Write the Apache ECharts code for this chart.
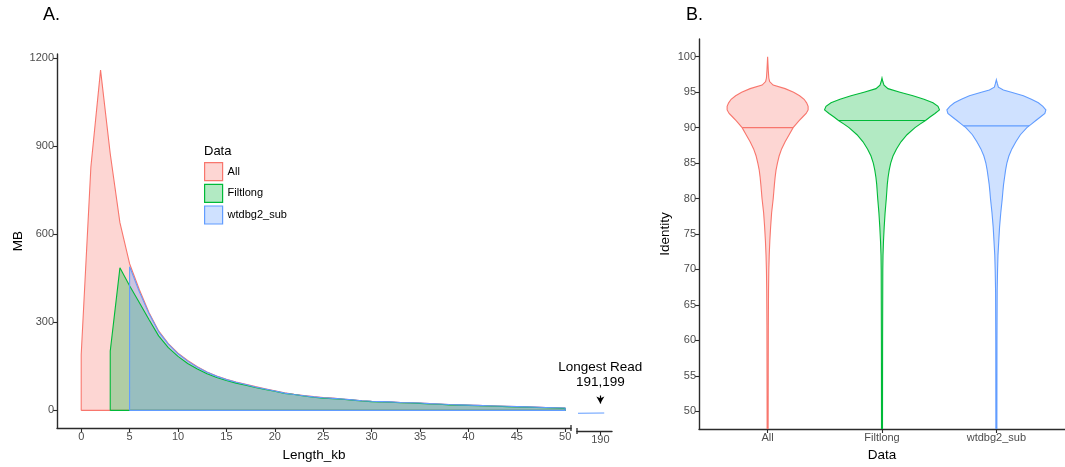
<!DOCTYPE html>
<html><head><meta charset="utf-8">
<script src="https://cdn.jsdelivr.net/npm/echarts@6/dist/echarts.min.js"></script>
<style>html,body{margin:0;padding:0;background:#fff}#c{width:1065px;height:467px}</style>
</head><body><div id="c"></div>
<script>
// ---------------- DATA ----------------
const seriesNames = ['All', 'Filtlong', 'wtdbg2_sub'];
const colors = ['#F8766D', '#00BA38', '#619CFF'];

// Panel A: read-length distribution (MB per 1 kb bin)
const lengthKb = [0,1,2,3,4,5,6,7,8,9,10,11,12,13,14,15,16,17,18,19,20,21,22,23,24,25,26,27,28,29,30,31,32,33,34,35,36,37,38,39,40,41,42,43,44,45,46,47,48,49,50];
const allMB = [190,830,1160,875,640,500,412,334,271,228,195,170,149,131,117,106,97,89,81,74,67,60,55,51,47,44,42,39,36,33,31,30,29,27,26,25,23,22,20,19,18,17,16,15,14,13,12,11,10,9,8];
const filtlongKb = [3,4,5,6,7,8,9,10,11,12,13,14,15,16,17,18,19,20,21,22,23,24,25,26,27,28,29,30,31,32,33,34,35,36,37,38,39,40,41,42,43,44,45,46,47,48,49,50];
const filtlongMB = [202,486,425,368,310,254,214,184,160,141,125,112,102,93,86,78,71,65,58,54,49,45,42,40,38,35,32,30,29,28,26,25,24,22,21,19,18,17,16,15,14,13,12,11,10,9,8,7];
const wtdbgKb = [5,6,7,8,9,10,11,12,13,14,15,16,17,18,19,20,21,22,23,24,25,26,27,28,29,30,31,32,33,34,35,36,37,38,39,40,41,42,43,44,45,46,47,48,49,50];
const wtdbgMB = [490,405,330,268,226,193,168,147,130,116,105,96,88,80,73,66,59,54,50,46,43,41,39,36,33,31,30,29,27,26,25,23,22,20,19,18,17,16,15,14,13,12,11,10,9,8];
const tailKb = [187.7, 190.4];
const tailMB = [1, 1];
const lengthTicks = [0,5,10,15,20,25,30,35,40,45,50];
const tailTicks = [190];
const mbTicks = [0,300,600,900,1200];
const longestReadLabel = ['Longest Read', '191,199'];
const longestReadKb = 190;
const arrowFromMB = 60, arrowToMB = 33;

// Panel B: identity violins (identity levels and half-width densities)
const identityTicks = [50,55,60,65,70,75,80,85,90,95,100];
const allIdentity = [100,98,97,96.5,96,95.5,95,94.5,94,93.5,93,92.5,92,91.5,91,90.5,90,89,88,87,86,85,84,83,82,81,80,78,76,74,72,70,67,62,55,47.5];
const allDensity  = [0,0.7,1.2,2,5.5,17.5,26,32,36.5,39,40.5,40.5,38.5,35,31.5,28.5,25.5,21.5,17.5,14,11.5,9.8,8.4,7.5,6.8,6.2,5.6,4.0,3.0,2.2,1.6,1.2,0.9,0.7,0.6,0.5];
const filtIdentity = [97,96.5,96,95.5,95,94.5,94,93.5,93,92.5,92,91.5,91,90.5,90,89,88,87,86,85,84,83,82,81,80,78,76,74,72,70,60,47.5];
const filtDensity  = [0,0.8,2,6,18,31,42,51,56,57.5,53,48,43.5,38,33,25,19,14.5,11,8.7,7.2,6.1,5.3,4.8,4.3,3.1,2.2,1.5,1,0.8,0.6,0.5];
const wtdbgIdentity = [96.75,96.2,95.7,95.3,95,94.5,94,93.5,93,92.5,92,91.5,91,90.5,90,89,88,87,86,85,84,83,82,81,80,78,76,74,72,70,67,60,47.5];
const wtdbgDensity  = [0,1,2,7,15,27,35,42,46.5,49.5,48.5,44,39.5,35,30.5,24,19.5,15.5,12.5,10.5,9.2,8.2,7.2,6.5,5.9,4.4,3.2,2.4,1.6,1.2,0.8,0.6,0.5];
const identityMedians = [90.0, 91.0, 90.25];

// ---------------- CHART ----------------
const FONT = '"Liberation Sans", Arial, Helvetica, sans-serif';
const DENSITY_TO_CAT = 1 / 114.4;
function rgba(hex, a) {
  const n = parseInt(hex.slice(1), 16);
  return 'rgba(' + (n >> 16) + ',' + ((n >> 8) & 255) + ',' + (n & 255) + ',' + a + ')';
}
const fills = colors.map(c => rgba(c, 0.3));
function closedPoly(xs, ys) {
  const p = xs.map((x, i) => [x, ys[i]]);
  return [[xs[0], 0]].concat(p, [[xs[xs.length - 1], 0], [xs[0], 0]]);
}
const violins = [
  { identity: allIdentity, density: allDensity },
  { identity: filtIdentity, density: filtDensity },
  { identity: wtdbgIdentity, density: wtdbgDensity }
];
function densityAt(v, y) {
  for (let k = 0; k < v.identity.length - 1; k++) {
    const a = v.identity[k], b = v.identity[k + 1];
    if (y <= a && y >= b) {
      const t = (a - y) / (a - b);
      return v.density[k] + t * (v.density[k + 1] - v.density[k]);
    }
  }
  return 0;
}

const axisLineStyle = { color: '#2b2b2b', width: 1.4 };
const tickStyle = { show: true, length: 4, lineStyle: { color: '#2b2b2b', width: 1.1 } };
const labelStyle = { color: '#4D4D4D', fontSize: 11, fontFamily: FONT, margin: 3, formatter: v => String(v) };
const nameStyle = { color: '#000', fontSize: 13.5, fontFamily: FONT };

const areaSeries = [[lengthKb, allMB], [filtlongKb, filtlongMB], [wtdbgKb, wtdbgMB]].map((d, i) => ({
  name: seriesNames[i], type: 'line', xAxisIndex: 0, yAxisIndex: 0,
  symbol: 'none', smooth: false, silent: true,
  lineStyle: { color: colors[i], width: 1.1 },
  itemStyle: { color: colors[i] },
  areaStyle: { color: fills[i], opacity: 1 },
  data: closedPoly(d[0], d[1])
}));

const tailSeries = {
  name: seriesNames[2], type: 'line', xAxisIndex: 1, yAxisIndex: 1,
  symbol: 'none', silent: true,
  lineStyle: { color: colors[2], width: 1.1 },
  itemStyle: { color: colors[2] },
  areaStyle: { color: fills[2], opacity: 1 },
  data: closedPoly(tailKb, tailMB),
  markLine: {
    silent: true, symbol: ['none', 'arrow'], symbolSize: [6, 7],
    lineStyle: { color: '#000', width: 1.2, type: 'solid' },
    label: { show: false },
    data: [[{ coord: [longestReadKb, arrowFromMB] }, { coord: [longestReadKb, arrowToMB] }]]
  }
};

const violinSeries = {
  type: 'custom', xAxisIndex: 2, yAxisIndex: 2, clip: true, silent: true,
  data: identityMedians.map((m, i) => [i + 1, m]),
  renderItem: function (params, api) {
    const i = params.dataIndex, v = violins[i], cx = api.value(0);
    const right = [], left = [];
    v.identity.forEach((y, k) => {
      const hw = v.density[k] * DENSITY_TO_CAT;
      right.push(api.coord([cx + hw, y]));
      left.push(api.coord([cx - hw, y]));
    });
    const pts = right.concat(left.reverse());
    const med = api.value(1);
    const mhw = densityAt(v, med) * DENSITY_TO_CAT;
    const p1 = api.coord([cx - mhw, med]), p2 = api.coord([cx + mhw, med]);
    return {
      type: 'group',
      children: [
        { type: 'polygon', shape: { points: pts }, style: { fill: fills[i], stroke: colors[i], lineWidth: 1.1 } },
        { type: 'line', shape: { x1: p1[0], y1: p1[1], x2: p2[0], y2: p2[1] }, style: { stroke: colors[i], lineWidth: 1.1 } }
      ]
    };
  }
};

const chart = echarts.init(document.getElementById('c'), null, { renderer: 'canvas' });
const option = {
  animation: false,
  backgroundColor: '#fff',
  textStyle: { fontFamily: FONT },
  grid: [
    { left: 57, top: 54, width: 514, height: 377 },
    { left: 577, top: 54, width: 35, height: 377 },
    { left: 699, top: 39, width: 366, height: 397 }
  ],
  legend: {
    orient: 'vertical', left: 204, top: 162, icon: 'rect', padding: 0,
    itemWidth: 18, itemHeight: 18, itemGap: 2.5, selectedMode: false,
    textStyle: { fontSize: 11, color: '#000', fontFamily: FONT },
    data: seriesNames.map((n, i) => ({ name: n, itemStyle: { color: fills[i], borderColor: colors[i], borderWidth: 1.2 } }))
  },
  xAxis: [
    {
      gridIndex: 0, type: 'value', min: -2.5, max: 50.6,
      name: 'Length_kb', nameLocation: 'middle', nameGap: 20, nameTextStyle: nameStyle,
      axisLine: { show: true, lineStyle: axisLineStyle, onZero: false },
      axisTick: Object.assign({ customValues: lengthTicks }, tickStyle),
      axisLabel: Object.assign({ customValues: lengthTicks }, labelStyle),
      splitLine: { show: false }
    },
    {
      gridIndex: 1, type: 'value', min: 187.6, max: 191.2,
      axisLine: { show: true, lineStyle: axisLineStyle, onZero: false },
      axisTick: Object.assign({ customValues: tailTicks }, tickStyle),
      axisLabel: Object.assign({ customValues: tailTicks }, labelStyle),
      splitLine: { show: false }
    },
    {
      gridIndex: 2, type: 'value', min: 0.4, max: 3.6,
      name: 'Data', nameLocation: 'middle', nameGap: 19, nameTextStyle: nameStyle,
      axisLine: { show: true, lineStyle: axisLineStyle, onZero: false },
      axisTick: Object.assign({ customValues: [1, 2, 3] }, tickStyle),
      axisLabel: Object.assign({}, labelStyle, { customValues: [1, 2, 3], formatter: v => seriesNames[Math.round(v) - 1] }),
      splitLine: { show: false }
    }
  ],
  yAxis: [
    {
      gridIndex: 0, type: 'value', min: -60, max: 1215,
      name: 'MB', nameLocation: 'middle', nameGap: 27, nameTextStyle: nameStyle,
      axisLine: { show: true, lineStyle: axisLineStyle, onZero: false },
      axisTick: Object.assign({ customValues: mbTicks }, tickStyle),
      axisLabel: Object.assign({ customValues: mbTicks }, labelStyle),
      splitLine: { show: false }
    },
    {
      gridIndex: 1, type: 'value', min: -60, max: 1215, show: false,
      splitLine: { show: false }
    },
    {
      gridIndex: 2, type: 'value', min: 47.5, max: 102.5,
      name: 'Identity', nameLocation: 'middle', nameGap: 27, nameTextStyle: nameStyle,
      axisLine: { show: true, lineStyle: axisLineStyle, onZero: false },
      axisTick: Object.assign({ customValues: identityTicks }, tickStyle),
      axisLabel: Object.assign({ customValues: identityTicks }, labelStyle),
      splitLine: { show: false }
    }
  ],
  series: areaSeries.concat([tailSeries, violinSeries])
};
chart.setOption(option);

// annotations positioned through the axes
const arrowTop = chart.convertToPixel({ xAxisIndex: 1, yAxisIndex: 1 }, [longestReadKb, arrowFromMB]);
const mainEnd = chart.convertToPixel({ xAxisIndex: 0, yAxisIndex: 0 }, [50.6, -60]);
const tailStart = chart.convertToPixel({ xAxisIndex: 1, yAxisIndex: 1 }, [187.6, -60]);
chart.setOption({
  graphic: [
    { type: 'text', left: 43, top: 6, style: { text: 'A.', fontSize: 18, fill: '#000', fontFamily: FONT } },
    { type: 'text', left: 686, top: 6, style: { text: 'B.', fontSize: 18, fill: '#000', fontFamily: FONT } },
    { type: 'text', left: 204, top: 145, style: { text: 'Data', fontSize: 13, fill: '#000', fontFamily: FONT } },
    { type: 'text', x: arrowTop[0], y: arrowTop[1] - 28, style: { text: longestReadLabel[0], fontSize: 13.5, fill: '#000', fontFamily: FONT, align: 'center', verticalAlign: 'middle' } },
    { type: 'text', x: arrowTop[0], y: arrowTop[1] - 13, style: { text: longestReadLabel[1], fontSize: 13.5, fill: '#000', fontFamily: FONT, align: 'center', verticalAlign: 'middle' } },
    { type: 'line', shape: { x1: mainEnd[0], y1: mainEnd[1] - 3, x2: mainEnd[0], y2: mainEnd[1] + 3 }, style: { stroke: '#2b2b2b', lineWidth: 1.3 } },
    { type: 'line', shape: { x1: tailStart[0], y1: tailStart[1] - 3, x2: tailStart[0], y2: tailStart[1] + 3 }, style: { stroke: '#2b2b2b', lineWidth: 1.3 } }
  ]
});
</script></body></html>
